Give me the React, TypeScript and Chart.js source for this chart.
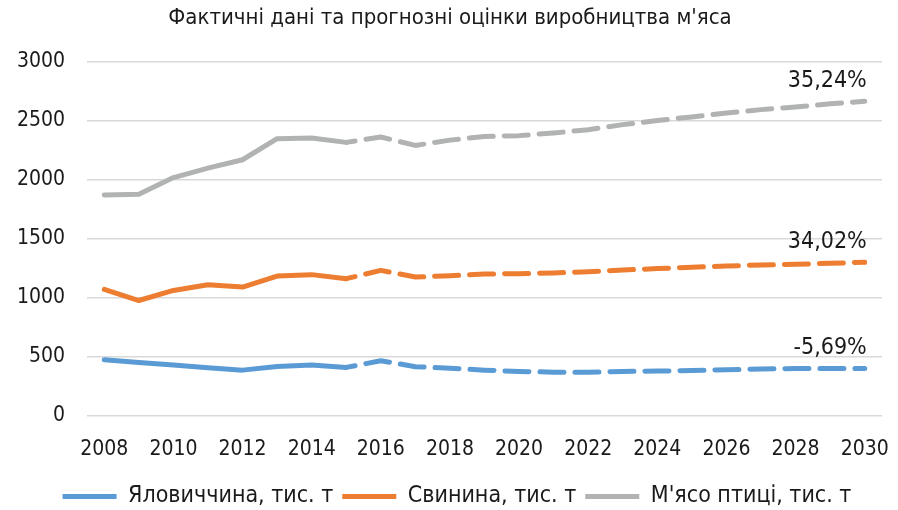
import React, { useEffect, useRef } from "react";
import { Chart, registerables } from "chart.js";

Chart.register(...registerables);

const title = "Фактичні дані та прогнозні оцінки виробництва м'яса";
const years = [
  "2008", "2009", "2010", "2011", "2012", "2013", "2014", "2015", "2016", "2017", "2018", "2019",
  "2020", "2021", "2022", "2023", "2024", "2025", "2026", "2027", "2028", "2029", "2030",
];
const lastActualYear = "2015";

const beefName = "Яловиччина, тис. т";
const porkName = "Свинина, тис. т";
const poultryName = "М'ясо птиці, тис. т";

const beef = [476, 453, 431, 408, 388, 419, 431, 411, 468, 417, 405, 388, 377, 371, 371, 377, 380, 385, 391, 397, 402, 402, 402];
const pork = [1071, 977, 1062, 1111, 1091, 1184, 1196, 1162, 1232, 1176, 1186, 1201, 1204, 1210, 1221, 1235, 1247, 1258, 1269, 1278, 1284, 1292, 1301];
const poultry = [1870, 1876, 2017, 2097, 2168, 2346, 2352, 2315, 2360, 2289, 2334, 2365, 2372, 2394, 2422, 2465, 2500, 2530, 2564, 2592, 2615, 2641, 2663];

const endLabels = ["-5,69%", "34,02%", "35,24%"];

const yMin = 0;
const yMax = 3000;
const yStep = 500;

const FONT = '"DejaVu Sans Condensed", "DejaVu Sans", sans-serif';
const TEXT = "#1a1a1a";

const endLabelPlugin = {
  id: "endLabels",
  afterLayout(chart: any) {
    const lg = chart.legend;
    if (lg) {
      lg.left += 7;
      lg.right += 7;
    }
  },
  afterDatasetsDraw(chart: any) {
    const ctx = chart.ctx;
    ctx.save();
    ctx.font = `23px ${FONT}`;
    ctx.fillStyle = TEXT;
    ctx.textAlign = "right";
    ctx.textBaseline = "middle";
    chart.data.datasets.forEach((_ds: any, i: number) => {
      const meta = chart.getDatasetMeta(i);
      const pt = meta.data[meta.data.length - 1];
      if (!pt) return;
      ctx.fillText(endLabels[i], pt.x + 2, pt.y - 20);
    });
    ctx.restore();
  },
};

export default function App() {
  const ref = useRef<HTMLCanvasElement | null>(null);

  useEffect(() => {
    if (!ref.current) return;
    const splitIdx = years.indexOf(lastActualYear);
    const dash = (c: any) => (c.p0DataIndex >= splitIdx ? [24, 11] : undefined);
    const dashOffset = (c: any) => (c.p0DataIndex >= splitIdx ? 15 : 0);
    const mk = (label: string, data: number[], color: string) => ({
      label,
      data,
      borderColor: color,
      backgroundColor: color,
      borderWidth: 5,
      pointRadius: 0,
      pointHoverRadius: 0,
      tension: 0,
      borderCapStyle: "round" as const,
      borderJoinStyle: "round" as const,
      segment: { borderDash: dash, borderDashOffset: dashOffset },
    });
    const chart = new Chart(ref.current, {
      type: "line",
      data: {
        labels: years,
        datasets: [
          mk(beefName, beef, "#5B9BD5"),
          mk(porkName, pork, "#ED7D31"),
          mk(poultryName, poultry, "#B1B3B3"),
        ],
      },
      options: {
        animation: false,
        responsive: false,
        maintainAspectRatio: false,
        layout: { padding: { left: 18, right: 16, top: 0, bottom: -8 } },
        plugins: {
          title: {
            display: true,
            text: title,
            color: TEXT,
            font: { family: FONT, size: 22, weight: "normal" },
            padding: { top: 5, bottom: 30 },
          },
          legend: {
            position: "bottom",
            labels: {
              color: TEXT,
              font: { family: FONT, size: 23 },
              boxWidth: 54,
              boxHeight: 5,
              padding: 9,
              generateLabels: (c: any) =>
                Chart.defaults.plugins.legend.labels.generateLabels(c).map((l: any) => ({
                  ...l,
                  lineWidth: 0,
                  lineDash: [],
                  fillStyle: l.strokeStyle,
                })),
            },
          },
          tooltip: { enabled: false },
        },
        scales: {
          x: {
            offset: true,
            grid: { display: false, drawTicks: false },
            border: { display: false },
            afterFit: (s: any) => {
              s.paddingLeft = 0;
              s.paddingRight = 0;
              s.height = 60;
            },
            ticks: {
              autoSkip: false,
              maxRotation: 0,
              color: TEXT,
              font: { family: FONT, size: 21 },
              padding: 21,
              callback: (_v: any, i: number) => (i % 2 === 0 ? years[i] : ""),
            },
          },
          y: {
            min: yMin,
            max: yMax,
            grid: { color: "#d9d9d9", lineWidth: 1.5, drawTicks: false },
            border: { display: false },
            afterFit: (s: any) => {
              s.paddingTop = 0;
              s.paddingBottom = 0;
              s.width = 69;
            },
            ticks: {
              stepSize: yStep,
              color: TEXT,
              font: { family: FONT, size: 21 },
              padding: 22,
              callback: (v: any) => String(v),
            },
          },
        },
      },
      plugins: [endLabelPlugin],
    });
    return () => chart.destroy();
  }, []);

  return (
    <div style={{ position: "absolute", left: 0, top: 0, width: 898, height: 510, background: "#fff" }}>
      <canvas ref={ref} width={898} height={510} />
    </div>
  );
}
